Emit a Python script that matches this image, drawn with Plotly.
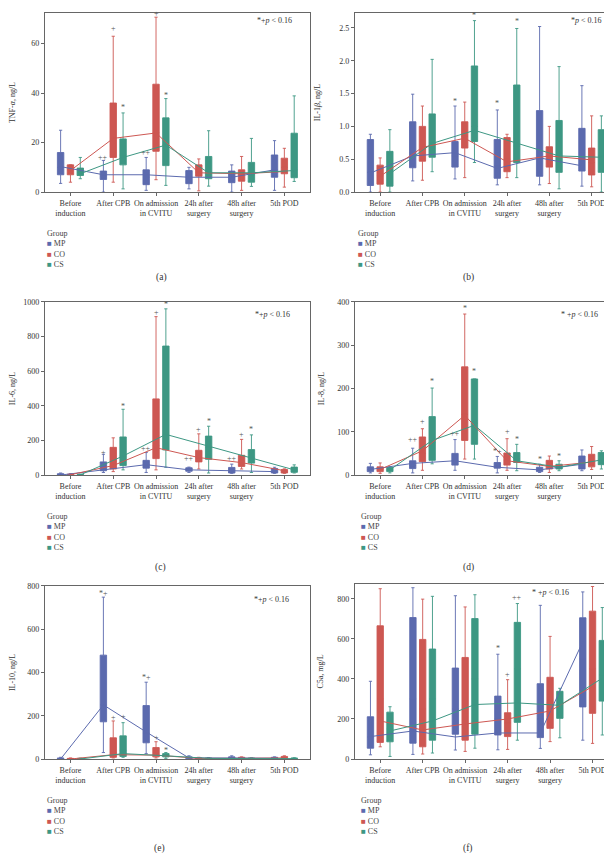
import plotly.graph_objects as go

W, H = 612, 853
FONT = "Liberation Serif"

CATEGORIES = ["Before<br>induction", "After CPB", "On admission<br>in CVITU",
              "24h after<br>surgery", "48h after<br>surgery", "5th POD"]
GROUPS = ["MP", "CO", "CS"]
COLORS = {"MP": "#5b6aae", "CO": "#cd5752", "CS": "#3d9783"}
OFFSETS = {"MP": -0.23, "CO": 0.0, "CS": 0.23}

# ---------------- (a) TNF-alpha, ng/L ----------------
tnf_low = {"MP": [3.5, 0, 0.7, 1.3, 0, 0.7], "CO": [4, 4, 5, 0.5, 0.7, 2], "CS": [5.4, 1.3, 2.7, 2.4, 2.3, 4.3]}
tnf_q1 = {"MP": [7, 5.1, 3, 3.4, 3.8, 6], "CO": [7, 14, 16.5, 6.4, 4.4, 7.4], "CS": [6.7, 11, 10.7, 5.4, 4, 5.8]}
tnf_med = {"MP": [10, 6.5, 6, 6, 6, 9], "CO": [9, 22, 24, 8, 7, 10], "CS": [8, 15, 19, 8, 7, 9]}
tnf_q3 = {"MP": [16, 8.5, 9, 8.7, 8.5, 15], "CO": [11, 36, 43.6, 11, 9, 13.7], "CS": [9.7, 21.5, 30, 14.4, 12, 23.8]}
tnf_high = {"MP": [25, 12.8, 14, 10, 11, 20.8], "CO": [11, 63, 70.7, 13.4, 14.4, 17.7], "CS": [14, 32, 37.8, 24.8, 21.7, 38.9]}
tnf_mean = {"MP": [10.3, 7, 7, 6, 6, 9], "CO": [8.7, 21.7, 23.9, 7.8, 7.4, 8.3], "CS": [7.4, 14, 19, 7.8, 7.8, 8.7]}
tnf_sig = [(1, "MP", "++", 14), (1, "CO", "+", 66), (1, "CS", "*", 34),
           (2, "MP", "++", 16), (2, "CO", "+", 72), (2, "CS", "*", 39)]

# ---------------- (b) IL-1beta, ng/L ----------------
il1_low = {"MP": [0, 0.17, 0.2, 0.11, 0.11, 0.09], "CO": [0, 0.18, 0.22, 0.22, 0.13, 0.08], "CS": [0, 0.31, 0.45, 0.22, 0.05, 0.0]}
il1_q1 = {"MP": [0.1, 0.37, 0.38, 0.21, 0.24, 0.32], "CO": [0.12, 0.47, 0.67, 0.31, 0.38, 0.26], "CS": [0.09, 0.53, 0.77, 0.45, 0.3, 0.3]}
il1_med = {"MP": [0.3, 0.6, 0.55, 0.4, 0.5, 0.5], "CO": [0.25, 0.65, 0.85, 0.5, 0.55, 0.45], "CS": [0.3, 0.75, 1.0, 0.7, 0.55, 0.55]}
il1_q3 = {"MP": [0.8, 1.07, 0.77, 0.8, 1.24, 0.97], "CO": [0.41, 1.0, 1.07, 0.83, 0.69, 0.67], "CS": [0.62, 1.19, 1.92, 1.63, 1.09, 0.95]}
il1_high = {"MP": [0.88, 1.49, 1.31, 1.25, 2.52, 1.62], "CO": [0.52, 1.31, 1.37, 0.88, 1.0, 1.16], "CS": [0.95, 2.02, 2.61, 2.49, 1.91, 1.16]}
il1_mean = {"MP": [0.29, 0.55, 0.6, 0.36, 0.52, 0.4], "CO": [0.24, 0.68, 0.82, 0.46, 0.55, 0.49], "CS": [0.28, 0.74, 0.94, 0.75, 0.55, 0.53]}
il1_sig = [(2, "MP", "*", 1.38), (2, "CS", "*", 2.69), (3, "MP", "*", 1.35), (3, "CS", "*", 2.6)]

# ---------------- (c) IL-6, ng/L ----------------
il6_low = {"MP": [0, 15, 15, 15, 10, 10], "CO": [0, 20, 30, 35, 35, 10], "CS": [0, 30, 45, 12, 15, 12]}
il6_q1 = {"MP": [0, 25, 40, 22, 12, 12], "CO": [0, 35, 95, 76, 50, 12], "CS": [0, 55, 145, 91, 69, 16]}
il6_med = {"MP": [2, 45, 60, 28, 25, 20], "CO": [2, 80, 170, 100, 80, 20], "CS": [1, 110, 230, 160, 100, 30]}
il6_q3 = {"MP": [8, 76, 85, 42, 44, 38], "CO": [5, 160, 440, 143, 114, 32], "CS": [3, 220, 745, 225, 147, 46]}
il6_high = {"MP": [12, 120, 130, 46, 63, 45], "CO": [8, 215, 915, 238, 206, 36], "CS": [6, 380, 960, 282, 232, 59]}
il6_mean = {"MP": [0, 32, 60, 30, 24, 20], "CO": [2, 55, 158, 101, 72, 25], "CS": [1, 110, 235, 168, 97, 30]}
il6_sig = [(1, "MP", "+", 130), (1, "CS", "*", 396), (2, "MP", "++", 154), (2, "CO", "+", 939),
           (2, "CS", "*", 983), (3, "MP", "++", 95), (3, "CO", "+", 263), (3, "CS", "*", 310),
           (4, "MP", "++", 95), (4, "CO", "+", 236), (4, "CS", "*", 263)]

# ---------------- (d) IL-8, ng/L ----------------
il8_low = {"MP": [5, 5, 11, 5, 6, 10], "CO": [4, 11, 37, 11, 6, 13], "CS": [5, 26, 37, 10, 10, 14]}
il8_q1 = {"MP": [8, 15, 23, 16, 8, 14], "CO": [8, 31, 80, 23, 14, 19], "CS": [8, 34, 71, 29, 14, 24]}
il8_med = {"MP": [13, 22, 33, 20, 12, 25], "CO": [13, 50, 140, 33, 22, 30], "CS": [12, 75, 120, 38, 19, 35]}
il8_q3 = {"MP": [19, 33, 50, 29, 18, 44], "CO": [19, 88, 250, 51, 34, 48], "CS": [17.5, 135, 222, 52, 25, 52]}
il8_high = {"MP": [27, 62, 82, 43, 25, 58], "CO": [28, 107, 372, 84, 44, 66], "CS": [19, 201, 222, 71, 33, 56]}
il8_mean = {"MP": [13, 27, 33, 18, 12, 25], "CO": [13, 56, 138, 33, 20, 30], "CS": [12, 80, 115, 33, 18, 35]}
il8_sig = [(1, "MP", "++", 81), (1, "CO", "+", 123), (1, "CS", "*", 215), (2, "MP", "++", 96),
           (2, "CO", "*", 384), (2, "CS", "*", 239), (3, "MP", "*+", 54), (3, "CO", "+", 100),
           (3, "CS", "*", 82), (4, "MP", "*", 35), (4, "CS", "*", 43)]

# ---------------- (e) IL-10, ng/L ----------------
il10_low = {"MP": [0, 30, 25, 0, 0, 0], "CO": [0, 5, 5, 0, 0, 0], "CS": [0, 8, 3, 0, 0, 0]}
il10_q1 = {"MP": [1, 172, 75, 2, 2, 1], "CO": [0.5, 8, 10, 1, 1, 2], "CS": [0.5, 12, 10, 1, 1, 1]}
il10_med = {"MP": [2, 250, 120, 4, 4, 3], "CO": [1, 30, 20, 3, 3, 5], "CS": [1, 40, 15, 2, 2, 2]}
il10_q3 = {"MP": [5, 480, 247, 10, 10, 8], "CO": [3, 98, 53, 5, 8, 12], "CS": [3, 107, 25, 5, 5, 5]}
il10_high = {"MP": [8, 748, 355, 15, 15, 10], "CO": [5, 176, 80, 8, 10, 15], "CS": [4, 168, 30, 7, 6, 6]}
il10_mean = {"MP": [0, 250, 125, 5, 5, 4], "CO": [0, 20, 18, 3, 3, 5], "CS": [0, 25, 15, 3, 2, 2]}
il10_sig = [(1, "MP", "*+", 767), (1, "CO", "+", 194), (1, "CS", "+", 198),
            (2, "MP", "*+", 378), (2, "CO", "+", 99), (2, "CS", "*", 41)]

# ---------------- (f) C5a, mg/L ----------------
c5a_low = {"MP": [21, 23, 45, 46, 53, 94], "CO": [61, 25, 38, 48, 87, 78], "CS": [13, 30, 54, 94, 106, 120]}
c5a_q1 = {"MP": [54, 79, 124, 120, 107, 260], "CO": [83, 61, 94, 112, 153, 228], "CS": [86, 94, 124, 183, 203, 289]}
c5a_med = {"MP": [110, 300, 250, 200, 200, 500], "CO": [300, 250, 250, 180, 280, 450], "CS": [150, 300, 400, 450, 270, 420]}
c5a_q3 = {"MP": [211, 706, 454, 314, 376, 705], "CO": [665, 597, 507, 231, 408, 738], "CS": [234, 549, 701, 682, 338, 592]}
c5a_high = {"MP": [388, 855, 815, 523, 767, 834], "CO": [850, 798, 759, 396, 612, 861], "CS": [261, 812, 820, 776, 353, 756]}
c5a_mean = {"MP": [112, 140, 110, 130, 130, 585], "CO": [190, 145, 175, 200, 240, 362], "CS": [140, 190, 272, 280, 268, 404]}
c5a_sig = [(3, "MP", "*", 550), (3, "CO", "+", 421), (3, "CS", "++", 804)]

PANELS = [
    dict(title="TNF-<i>α</i>, ng/L", low=tnf_low, q1=tnf_q1, med=tnf_med, q3=tnf_q3, high=tnf_high, mean=tnf_mean,
         sig=tnf_sig, yrange=[0, 72.4], ytick=[0, 20, 40, 60], fmt="", box=(33, 300, 1, 182), standoff=14,
         ptext="*+<i>p</i> < 0.16", ppos=(245, 9), cap="(a)", cappos=(150, 268), leg=(33, 224)),
    dict(title="IL-1<i>β</i>, ng/L", low=il1_low, q1=il1_q1, med=il1_med, q3=il1_q3, high=il1_high, mean=il1_mean,
         sig=il1_sig, yrange=[0, 2.726], ytick=[0, 0.5, 1.0, 1.5, 2.0, 2.5], fmt=".1f", box=(345, 609, 1, 182),
         standoff=17, ptext="*<i>p</i> < 0.16", ppos=(561, 9), cap="(b)", cappos=(459, 268), leg=(346, 224)),
    dict(title="IL-6, ng/L", low=il6_low, q1=il6_q1, med=il6_med, q3=il6_q3, high=il6_high, mean=il6_mean,
         sig=il6_sig, yrange=[0, 1000], ytick=[0, 200, 400, 600, 800, 1000], fmt="", box=(33, 300, 293, 468),
         standoff=10, ptext="*+<i>p</i> < 0.16", ppos=(243, 306), cap="(c)", cappos=(149, 561), leg=(33, 510)),
    dict(title="IL-8, ng/L", low=il8_low, q1=il8_q1, med=il8_med, q3=il8_q3, high=il8_high, mean=il8_mean,
         sig=il8_sig, yrange=[0, 400], ytick=[0, 100, 200, 300, 400], fmt="", box=(345, 609, 293, 468),
         standoff=11, ptext="* +<i>p</i> < 0.16", ppos=(551, 306), cap="(d)", cappos=(460, 561), leg=(349, 510)),
    dict(title="IL-10, ng/L", low=il10_low, q1=il10_q1, med=il10_med, q3=il10_q3, high=il10_high, mean=il10_mean,
         sig=il10_sig, yrange=[0, 800], ytick=[0, 200, 400, 600, 800], fmt="", box=(33, 300, 580, 755),
         standoff=10, ptext="*+<i>p</i> < 0.16", ppos=(242, 594), cap="(e)", cappos=(148, 845), leg=(33, 797)),
    dict(title="C5a, mg/L", low=c5a_low, q1=c5a_q1, med=c5a_med, q3=c5a_q3, high=c5a_high, mean=c5a_mean,
         sig=c5a_sig, yrange=[0, 874], ytick=[0, 200, 400, 600, 800], fmt="", box=(345, 610, 578, 755),
         standoff=12, ptext="* +<i>p</i> < 0.16", ppos=(521, 587), cap="(f)", cappos=(459, 845), leg=(349, 797)),
]


def px(x):
    return x / W


def py(y):
    return 1 - y / H


fig = go.Figure()
annotations = []
layout = dict(width=W, height=H, margin=dict(l=0, r=0, t=0, b=0),
              paper_bgcolor="white", plot_bgcolor="white", showlegend=False,
              font=dict(family=FONT, size=8, color="#333"), boxmode="overlay")

for k, p in enumerate(PANELS, start=1):
    xa = "x" if k == 1 else f"x{k}"
    ya = "y" if k == 1 else f"y{k}"
    cats = list(range(len(CATEGORIES)))
    for g in GROUPS:
        xs = [c + OFFSETS[g] for c in cats]
        fig.add_trace(go.Box(
            x=xs, q1=p["q1"][g], median=p["med"][g], q3=p["q3"][g],
            lowerfence=p["low"][g], upperfence=p["high"][g],
            width=0.15, whiskerwidth=0.5, boxpoints=False, orientation="v",
            fillcolor=COLORS[g], line=dict(color=COLORS[g], width=0.9),
            name=g, showlegend=False, xaxis=xa, yaxis=ya))
    for g in GROUPS:
        xs = [c + OFFSETS[g] for c in cats]
        fig.add_trace(go.Scatter(
            x=xs, y=p["mean"][g], mode="lines", line=dict(color=COLORS[g], width=1),
            name=g + " mean", showlegend=False, xaxis=xa, yaxis=ya))

    x0, x1, y0, y1 = p["box"]
    axstyle = dict(showline=True, mirror=True, linecolor="#666", linewidth=1,
                   ticks="outside", ticklen=3, tickcolor="#666", showgrid=False, zeroline=False,
                   tickfont=dict(family=FONT, size=8, color="#333"))
    layout["xaxis" if k == 1 else f"xaxis{k}"] = dict(
        domain=[px(x0), px(x1)], anchor=ya, range=[-0.6, 5.6],
        tickvals=cats, ticktext=CATEGORIES, **axstyle)
    layout["yaxis" if k == 1 else f"yaxis{k}"] = dict(
        domain=[py(y1), py(y0)], anchor=xa, range=p["yrange"], tickvals=p["ytick"],
        tickformat=p["fmt"],
        title=dict(text=p["title"], standoff=p["standoff"], font=dict(family=FONT, size=8)),
        **axstyle)

    for (c, g, txt, v) in p["sig"]:
        annotations.append(dict(x=c + OFFSETS[g], y=v, xref=xa, yref=ya, text=txt, showarrow=False,
                                font=dict(family=FONT, size=8, color="#555"), yanchor="middle"))
    annotations.append(dict(x=px(p["ppos"][0]), y=py(p["ppos"][1]), xref="paper", yref="paper",
                            text=p["ptext"], showarrow=False, xanchor="left", yanchor="middle",
                            font=dict(family=FONT, size=8, color="#333")))
    annotations.append(dict(x=px(p["cappos"][0]), y=py(p["cappos"][1]), xref="paper", yref="paper",
                            text=p["cap"], showarrow=False, xanchor="center", yanchor="middle",
                            font=dict(family=FONT, size=9.5, color="#333")))
    lx, ly = p["leg"]
    annotations.append(dict(x=px(lx), y=py(ly), xref="paper", yref="paper", text="Group",
                            showarrow=False, xanchor="left", yanchor="middle",
                            font=dict(family=FONT, size=8, color="#444")))
    for j, g in enumerate(GROUPS):
        annotations.append(dict(x=px(lx), y=py(ly + 10.4 * (j + 1)), xref="paper", yref="paper",
                                text=f"<span style='color:{COLORS[g]}'>■</span> {g}",
                                showarrow=False, xanchor="left", yanchor="middle",
                                font=dict(family=FONT, size=8, color="#444")))

layout["annotations"] = annotations
fig.update_layout(**layout)
fig.write_html("out.html")
